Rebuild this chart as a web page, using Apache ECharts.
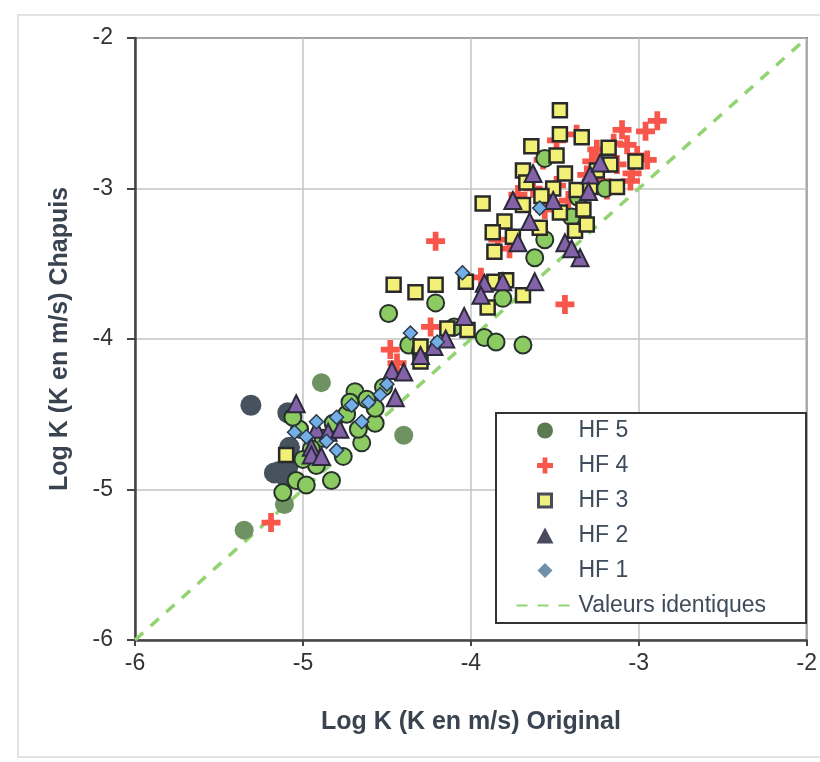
<!DOCTYPE html>
<html><head><meta charset="utf-8">
<script src="https://cdn.jsdelivr.net/npm/echarts@6/dist/echarts.min.js"></script>
<style>html,body{margin:0;padding:0;background:#fff}#c{width:820px;height:762px}</style>
</head><body><div id="c"></div>
<script>
const xTicks = [-6, -5, -4, -3, -2];
const yTicks = [-6, -5, -4, -3, -2];
const hf5 = [[-5.12,-5.02],[-5.04,-4.94],[-4.98,-4.97],[-4.92,-4.84],[-4.83,-4.94],[-4.76,-4.78],[-4.65,-4.69],[-4.67,-4.60],[-4.57,-4.56],[-4.57,-4.46],[-4.69,-4.35],[-4.74,-4.50],[-4.82,-4.56],[-4.88,-4.66],[-5.02,-4.60],[-4.95,-4.73],[-4.62,-4.40],[-4.52,-4.32],[-4.37,-4.04],[-4.30,-4.08],[-4.49,-3.83],[-4.21,-3.76],[-3.92,-3.99],[-3.85,-4.02],[-3.69,-4.04],[-3.81,-3.73],[-3.62,-3.46],[-3.56,-3.34],[-3.56,-2.80],[-3.40,-3.19],[-3.20,-3.00],[-3.36,-3.06],[-4.10,-3.92],[-5.06,-4.52],[-5.00,-4.80],[-4.72,-4.42]];
const hf5Pale = [[-5.35,-5.27],[-4.89,-4.29],[-4.40,-4.64],[-5.11,-5.10]];
const hf5Dark = [[-5.31,-4.44],[-5.09,-4.49],[-5.08,-4.72],[-5.09,-4.85],[-5.17,-4.89],[-5.10,-4.92],[-5.14,-4.88]];
const hf4 = [[-5.19,-5.22],[-4.21,-3.35],[-3.44,-3.77],[-4.48,-4.07],[-3.94,-3.59],[-4.24,-3.92],[-3.77,-3.40],[-4.44,-4.16],[-2.89,-2.55],[-2.96,-2.62],[-3.10,-2.61],[-3.07,-2.71],[-3.01,-2.78],[-3.13,-2.84],[-3.25,-2.74],[-3.31,-2.91],[-3.19,-3.01],[-3.49,-2.98],[-3.57,-2.81],[-3.72,-3.04],[-3.56,-3.14],[-3.37,-2.64],[-3.84,-3.34],[-3.49,-2.68],[-2.95,-2.81],[-3.04,-2.90],[-3.15,-2.70],[-3.22,-2.95],[-3.05,-2.95],[-3.28,-2.82],[-3.63,-3.00],[-3.42,-3.08]];
const hf3 = [[-3.47,-2.48],[-3.47,-2.64],[-3.34,-2.66],[-3.64,-2.72],[-3.49,-2.78],[-3.18,-2.73],[-3.17,-2.84],[-3.02,-2.82],[-3.69,-2.88],[-3.67,-2.96],[-3.44,-2.90],[-3.51,-3.00],[-3.37,-3.01],[-3.13,-2.99],[-3.29,-2.99],[-3.93,-3.10],[-3.69,-3.11],[-3.47,-3.16],[-3.33,-3.14],[-3.80,-3.22],[-3.87,-3.29],[-3.75,-3.32],[-3.59,-3.26],[-3.38,-3.28],[-3.31,-3.24],[-3.86,-3.42],[-4.46,-3.64],[-4.33,-3.69],[-4.21,-3.64],[-4.03,-3.62],[-3.86,-3.62],[-3.90,-3.79],[-3.69,-3.71],[-4.02,-3.94],[-4.14,-3.93],[-4.30,-4.05],[-4.30,-4.15],[-3.79,-3.61],[-5.10,-4.77],[-3.58,-3.05],[-3.25,-2.88]];
const hf2 = [[-3.63,-2.90],[-3.75,-3.08],[-3.65,-3.22],[-3.72,-3.36],[-3.44,-3.36],[-3.35,-3.46],[-3.62,-3.62],[-3.81,-3.62],[-3.92,-3.63],[-3.29,-2.91],[-3.23,-2.83],[-3.51,-3.08],[-3.94,-3.71],[-4.04,-3.85],[-4.22,-4.05],[-4.30,-4.11],[-4.47,-4.21],[-4.40,-4.22],[-4.45,-4.39],[-4.92,-4.60],[-4.85,-4.62],[-4.78,-4.60],[-4.95,-4.72],[-4.95,-4.77],[-4.89,-4.78],[-5.04,-4.43],[-3.40,-3.40],[-4.15,-4.00],[-3.30,-3.02]];
const hf1 = [[-4.05,-3.56],[-4.36,-3.96],[-4.54,-4.37],[-4.61,-4.42],[-4.71,-4.44],[-4.80,-4.52],[-4.65,-4.55],[-4.98,-4.65],[-4.86,-4.68],[-4.80,-4.74],[-3.59,-3.13],[-4.20,-4.02],[-4.50,-4.30],[-4.92,-4.55],[-5.05,-4.62]];
const identity = [[-6,-6],[-2,-2]];

const FONT = '"Liberation Sans", Arial, sans-serif';
const PLUS = 'path://M7,0H13V7H20V13H13V20H7V13H0V7H7Z';
// legend icons drawn in the 57x16 legend icon box (corner anchors keep proportions)
const BOX = 'M0,0L0,0M57,16L57,16';
const LEG_SQUARE = 'path://' + BOX + 'M22,1.5H35V14.5H22Z';
const LEG_TRI = 'path://' + BOX + 'M28.5,0L37,16H20Z';
const LEG_DIAM = 'path://' + BOX + 'M28.5,0.5L36,8L28.5,15.5L21,8Z';
const chart = echarts.init(document.getElementById('c'), null, {renderer: 'canvas'});
chart.setOption({
  animation: false,
  backgroundColor: '#fff',
  textStyle: {fontFamily: FONT},
  graphic: [{type: 'rect', shape: {x: 18, y: 15, width: 820, height: 742}, style: {fill: 'none', stroke: '#e2e2e2', lineWidth: 2}, z: -10}],
  grid: {left: 135, right: 9, top: 38, bottom: 122, show: true, borderColor: '#444', borderWidth: 2},
  xAxis: {
    type: 'value', min: xTicks[0], max: xTicks[xTicks.length-1], interval: 1,
    name: 'Log K (K en m/s) Original', nameLocation: 'middle', nameGap: 70,
    nameTextStyle: {fontSize: 25, fontWeight: 'bold', color: '#3a4450', fontFamily: FONT},
    axisLine: {lineStyle: {color: '#444', width: 2.5}},
    axisTick: {show: true, length: 6, lineStyle: {color: '#444', width: 2}},
    axisLabel: {fontSize: 23, color: '#333', margin: 12, fontFamily: FONT},
    splitLine: {show: true, lineStyle: {color: '#c4c4c4', width: 1.5}}
  },
  yAxis: {
    type: 'value', min: yTicks[0], max: yTicks[yTicks.length-1], interval: 1,
    name: 'Log K (K en m/s) Chapuis', nameLocation: 'middle', nameGap: 62,
    nameTextStyle: {fontSize: 25, fontWeight: 'bold', color: '#3a4450', fontFamily: FONT},
    axisLine: {lineStyle: {color: '#444', width: 2.5}},
    axisTick: {show: true, length: 8, lineStyle: {color: '#444', width: 2}},
    axisLabel: {fontSize: 23, color: '#333', margin: 22, fontFamily: FONT},
    splitLine: {show: true, lineStyle: {color: '#c4c4c4', width: 1.5}}
  },
  legend: {
    orient: 'vertical', left: 496, top: 413,
    padding: [6, 40, 6, 19], itemGap: 12, itemWidth: 57, itemHeight: 16,
    backgroundColor: '#fff', borderColor: '#333', borderWidth: 2,
    textStyle: {fontSize: 23, color: '#3e4b5b', fontFamily: FONT},
    data: [
      {name: 'HF 5', icon: 'circle', itemStyle: {color: '#5b7a52', borderWidth: 0}},
      {name: 'HF 4', icon: PLUS, itemStyle: {color: '#f8564a', borderWidth: 0}},
      {name: 'HF 3', icon: LEG_SQUARE, itemStyle: {color: '#eef080', borderColor: '#4a4a5a', borderWidth: 3}},
      {name: 'HF 2', icon: LEG_TRI, itemStyle: {color: '#4a4a5e', borderWidth: 0}},
      {name: 'HF 1', icon: LEG_DIAM, itemStyle: {color: '#6e90aa', borderWidth: 0}},
      {name: 'Valeurs identiques', itemStyle: {color: 'rgba(0,0,0,0)', borderWidth: 0}}
    ]
  },
  series: [
    {name: 'Valeurs identiques', type: 'line', data: identity, symbol: 'none', showSymbol: false, z: 1,
     itemStyle: {color: 'rgba(0,0,0,0)'},
     lineStyle: {color: '#92d472', width: 3.5, type: [11, 10]}},
    {name: 'HF 4', type: 'scatter', data: hf4, symbol: PLUS, symbolSize: 19, z: 2,
     itemStyle: {color: '#f8564a', opacity: 1}},
    {name: 'HF 5 sombre', type: 'scatter', data: hf5Dark, symbol: 'circle', symbolSize: 21, z: 2,
     itemStyle: {color: '#46535f', opacity: 1}},
    {name: 'HF 5 pâle', type: 'scatter', data: hf5Pale, symbol: 'circle', symbolSize: 19, z: 2,
     itemStyle: {color: '#6f9262', opacity: 1}},
    {name: 'HF 5', type: 'scatter', data: hf5, symbol: 'circle', symbolSize: 17, z: 3,
     itemStyle: {color: '#8ccb62', borderColor: '#26322a', borderWidth: 2, opacity: 1}},
    {name: 'HF 3', type: 'scatter', data: hf3, symbol: 'rect', symbolSize: 14, z: 4,
     itemStyle: {color: '#f2f076', borderColor: '#2a2a2a', borderWidth: 2.5, opacity: 1}},
    {name: 'HF 2', type: 'scatter', data: hf2, symbol: 'triangle', symbolSize: 17, z: 5,
     itemStyle: {color: '#8462a8', borderColor: '#2a2a3a', borderWidth: 2, opacity: 1}},
    {name: 'HF 1', type: 'scatter', data: hf1, symbol: 'diamond', symbolSize: 14, z: 6,
     itemStyle: {color: '#74aee6', borderColor: '#2a3a4a', borderWidth: 1.5, opacity: 1}}
  ]
});
</script></body></html>
